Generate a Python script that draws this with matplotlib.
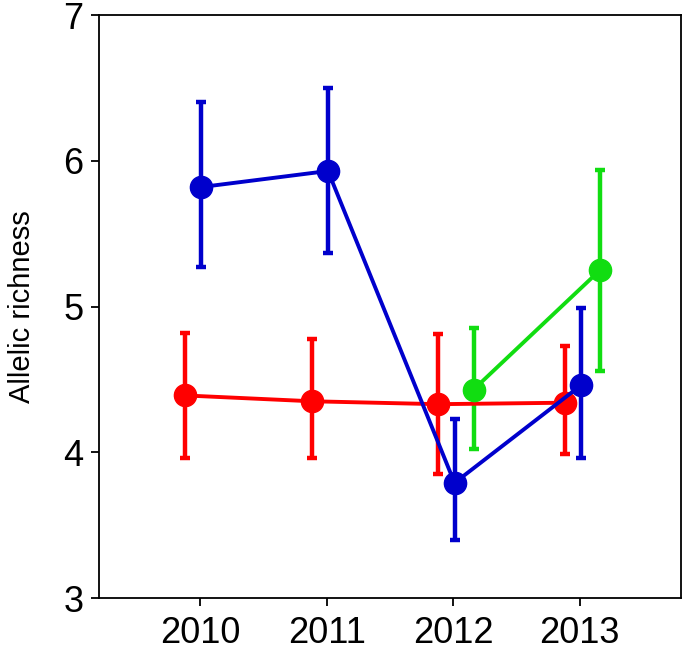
import matplotlib
matplotlib.use("agg")
import matplotlib.pyplot as plt

years = [2010, 2011, 2012, 2013]

red_mean = [4.39, 4.35, 4.33, 4.34]
red_low = [3.96, 3.96, 3.85, 3.99]
red_high = [4.82, 4.78, 4.81, 4.73]

blue_mean = [5.82, 5.93, 3.79, 4.46]
blue_low = [5.27, 5.37, 3.40, 3.96]
blue_high = [6.40, 6.50, 4.23, 4.99]

green_years = [2012, 2013]
green_mean = [4.43, 5.25]
green_low = [4.02, 4.56]
green_high = [4.85, 5.94]

plt.rcParams['font.family'] = ['Liberation Sans', 'DejaVu Sans']

fig = plt.figure(figsize=(6.85, 6.54), dpi=100)
ax = fig.add_axes([0.1445, 0.0856, 0.8497, 0.8914])


def draw(xs, offset, mean, low, high, color):
    x = [v + offset for v in xs]
    yerr = [[m - l for m, l in zip(mean, low)],
            [h - m for m, h in zip(mean, high)]]
    ax.errorbar(x, mean, yerr=yerr, color=color, lw=2.8, marker='o',
                ms=16, elinewidth=3.2, capsize=3.5, capthick=3.2)


draw(years, -0.12, red_mean, red_low, red_high, '#ff0000')
draw(green_years, 0.16, green_mean, green_low, green_high, '#11dd11')
draw(years, 0.01, blue_mean, blue_low, blue_high, '#0000cc')

ax.set_xlim(2009.2, 2013.8)
ax.set_ylim(3, 7)
ax.set_xticks(years)
ax.set_yticks([3, 4, 5, 6, 7])
ax.tick_params(labelsize=26, length=6, width=1.3, direction='out')
ax.tick_params(axis='x', pad=7)
ax.tick_params(axis='y', pad=5)
for s in ax.spines.values():
    s.set_linewidth(1.3)
ax.set_ylabel("Allelic richness", fontsize=21, labelpad=20)

fig.savefig("out.png", dpi=100)
